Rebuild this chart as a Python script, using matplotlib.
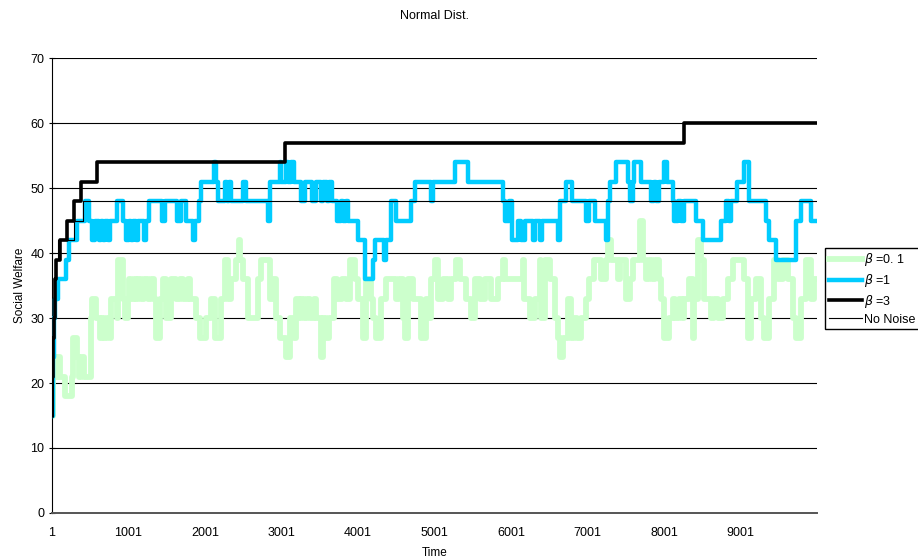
import numpy as np
import matplotlib
matplotlib.use("Agg")
import matplotlib.pyplot as plt

plt.rcParams["font.family"] = ["Liberation Sans", "DejaVu Sans"]

# step change points (time, value)
t_b01 = [1, 15, 40, 60, 80, 110, 170, 257, 279, 331, 350, 385, 420, 505, 518, 580, 627, 660, 680, 720,
         760, 779, 845, 866, 931, 960, 990, 1010, 1040, 1070, 1100, 1130, 1160, 1200, 1250, 1290, 1330,
         1367, 1410, 1450, 1490, 1560, 1620, 1680, 1720, 1780, 1810, 1889, 1932, 2020, 2080, 2128, 2216,
         2259, 2303, 2345, 2400, 2440, 2460, 2500, 2560, 2695, 2738, 2847, 2890, 2934, 2977, 3064, 3108,
         3160, 3195, 3230, 3260, 3300, 3330, 3380, 3420, 3456, 3522, 3543, 3580, 3620, 3690, 3720, 3790,
         3850, 3891, 3957, 4000, 4066, 4109, 4175, 4200, 4240, 4300, 4370, 4500, 4535, 4590, 4620, 4655,
         4720, 4828, 4893, 4930, 4960, 5002, 5045, 5110, 5175, 5220, 5285, 5329, 5415, 5481, 5524, 5590,
         5655, 5740, 5830, 5895, 5916, 6155, 6175, 6243, 6308, 6375, 6395, 6439, 6504, 6570, 6612, 6647,
         6678, 6743, 6787, 6820, 6860, 6917, 6983, 7026, 7091, 7179, 7244, 7266, 7309, 7396, 7420, 7505,
         7560, 7595, 7680, 7730, 7767, 7800, 7840, 7880, 7940, 7962, 8006, 8071, 8115, 8150, 8190, 8230,
         8267, 8333, 8376, 8398, 8441, 8485, 8528, 8616, 8660, 8703, 8768, 8833, 8898, 9050, 9094, 9138,
         9203, 9268, 9312, 9377, 9442, 9486, 9551, 9616, 9682, 9726, 9790, 9856, 9921, 9960]
v_b01 = [15, 21, 24, 21, 24, 21, 18, 21, 27, 24, 21, 24, 21, 30, 33, 30, 27, 30, 27, 30,
         27, 33, 30, 39, 33, 30, 33, 36, 33, 36, 33, 36, 33, 36, 33, 36, 33,
         27, 33, 36, 30, 36, 33, 36, 33, 36, 33, 30, 27, 30, 33, 27, 33,
         39, 33, 36, 39, 42, 39, 36, 30, 36, 39, 33, 36, 30, 27, 24, 30,
         27, 33, 30, 33, 30, 33, 30, 33, 30, 24, 30, 27, 30, 36, 33, 36,
         33, 39, 36, 33, 27, 36, 33, 30, 27, 33, 36, 33, 36, 30, 27, 36,
         33, 27, 33, 30, 36, 39, 33, 36, 33, 36, 39, 36, 33, 30, 36, 33,
         36, 33, 36, 39, 36, 39, 33, 30, 33, 39, 30, 39, 36, 30, 27, 24,
         27, 33, 27, 30, 27, 30, 33, 36, 39, 36, 39, 42, 39, 36, 39, 33,
         36, 39, 45, 39, 36, 39, 36, 39, 36, 33, 27, 30, 33, 30, 33, 30,
         33, 36, 27, 33, 42, 39, 33, 30, 33, 30, 33, 36, 39, 36, 27, 33,
         36, 30, 27, 33, 39, 36, 39, 36, 30, 27, 33, 39, 33, 36]

t_b1 = [1, 17, 30, 45, 83, 191, 222, 322, 431, 487, 518, 561, 620, 645, 670, 690, 727, 757, 845, 935,
        975, 1005, 1030, 1060, 1105, 1127, 1205, 1230, 1267, 1441, 1476, 1637, 1693, 1758, 1846, 1867,
        1920, 1955, 2120, 2150, 2172, 2259, 2290, 2320, 2340, 2498, 2540, 2825, 2855, 2977, 3000, 3064,
        3085, 3130, 3160, 3260, 3304, 3404, 3448, 3522, 3543, 3596, 3622, 3665, 3726, 3783, 3805, 3848,
        3870, 4000, 4087, 4196, 4218, 4336, 4370, 4436, 4501, 4697, 4740, 4958, 4980, 5263, 5437, 5894,
        5916, 5968, 6012, 6090, 6133, 6177, 6286, 6308, 6373, 6403, 6621, 6647, 6721, 6795, 6983, 7018,
        7100, 7244, 7274, 7300, 7374, 7527, 7560, 7590, 7614, 7701, 7832, 7875, 7897, 7941, 8006, 8036,
        8115, 8137, 8180, 8224, 8267, 8420, 8507, 8746, 8811, 8850, 8880, 8950, 9050, 9107, 9334, 9377,
        9464, 9726, 9790, 9921]
v_b1 = [15, 24, 30, 33, 36, 39, 42, 45, 48, 45, 42, 45, 42, 45, 42, 45, 42, 45, 48, 45,
        42, 45, 42, 45, 42, 45, 42, 45, 48, 45, 48, 45, 48, 45, 42, 45,
        48, 51, 54, 51, 48, 51, 48, 51, 48, 51, 48, 45, 51, 54, 51, 54,
        51, 54, 51, 48, 51, 48, 51, 48, 51, 48, 51, 48, 45, 48, 45, 48,
        45, 42, 36, 39, 42, 39, 42, 48, 45, 48, 51, 48, 51, 54, 51, 48,
        45, 48, 42, 45, 42, 45, 42, 45, 42, 45, 42, 48, 51, 48, 45, 48,
        45, 42, 48, 51, 54, 51, 48, 51, 54, 51, 48, 51, 48, 51, 54, 51,
        48, 45, 48, 45, 48, 45, 42, 45, 48, 45, 48, 51, 54, 48, 45, 42,
        39, 45, 48, 45]

t_b3 = [1, 8, 15, 25, 35, 60, 105, 195, 295, 380, 585, 3045, 8255]
v_b3 = [15, 21, 27, 30, 36, 39, 42, 45, 48, 51, 54, 57, 60]

t_none = [1, 10, 20, 30, 50, 80, 290, 410]
v_none = [15, 24, 30, 36, 39, 42, 45, 48]

t_end = 10000
xtick_vals = [1, 1001, 2001, 3001, 4001, 5001, 6001, 7001, 8001, 9001]


def steps(t, v):
    return np.append(t, t_end), np.append(v, v[-1])


fig = plt.figure(figsize=(9.18, 5.6), dpi=100)
ax = fig.add_axes([0.0566, 0.084, 0.8334, 0.812])

for y in range(10, 80, 10):
    ax.axhline(y, color="black", lw=0.8, zorder=1)

ax.step(*steps(t_b01, v_b01), where="post", color="#ccffcc", lw=4.2, label="$\\beta$ =0. 1", zorder=2)
ax.step(*steps(t_b1, v_b1), where="post", color="#00ccff", lw=3.2, label="$\\beta$ =1", zorder=3)
ax.step(*steps(t_b3, v_b3), where="post", color="black", lw=2.6, label="$\\beta$ =3", zorder=4)
ax.step(*steps(t_none, v_none), where="post", color="black", lw=0.8, label="No Noise", zorder=5)

ax.set_xlim(1, t_end)
ax.set_ylim(0, 70)
ax.set_xticks(xtick_vals)
ax.set_xticklabels([str(x) for x in xtick_vals])
ax.set_yticks(range(0, 80, 10))
ax.tick_params(axis="x", length=0, labelsize=9, pad=10)
ax.tick_params(axis="y", length=4, direction="inout", labelsize=9)
for s in ["top", "right"]:
    ax.spines[s].set_visible(False)
ax.spines["left"].set_color("black")
ax.spines["bottom"].set_color("#555555")
ax.spines["bottom"].set_linewidth(1.4)

ax.set_title("Normal Dist.", fontsize=9, pad=28)
ax.set_xlabel("Time", fontsize=8.5, labelpad=6)
ax.set_ylabel("Social Welfare", fontsize=8.5, labelpad=3)

fig.legend(loc="upper left", bbox_to_anchor=(0.899, 0.558), fontsize=9, frameon=True,
           fancybox=False, edgecolor="black", framealpha=1, handlelength=2.6,
           borderaxespad=0, labelspacing=0.3, handletextpad=0.2, borderpad=0.3)

fig.savefig("out.png", dpi=100)
